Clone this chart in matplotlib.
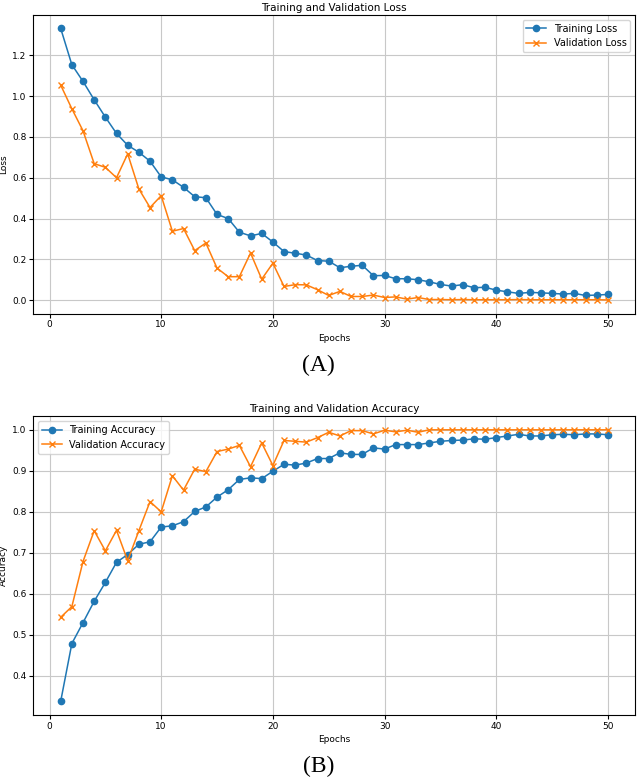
import numpy as np
import matplotlib.pyplot as plt

epochs = np.arange(1, 51)

train_loss = [1.332, 1.154, 1.072, 0.982, 0.897, 0.817, 0.759, 0.725, 0.681, 0.604,
              0.590, 0.553, 0.507, 0.502, 0.420, 0.400, 0.333, 0.315, 0.327, 0.285,
              0.238, 0.230, 0.221, 0.194, 0.191, 0.159, 0.166, 0.171, 0.120, 0.121,
              0.105, 0.105, 0.100, 0.090, 0.077, 0.069, 0.076, 0.061, 0.063, 0.049,
              0.041, 0.033, 0.038, 0.036, 0.033, 0.030, 0.033, 0.023, 0.025, 0.028]
val_loss = [1.054, 0.938, 0.830, 0.669, 0.651, 0.600, 0.717, 0.545, 0.454, 0.512,
            0.338, 0.351, 0.243, 0.280, 0.157, 0.115, 0.115, 0.231, 0.103, 0.181,
            0.067, 0.076, 0.075, 0.051, 0.023, 0.043, 0.018, 0.018, 0.025, 0.013,
            0.016, 0.005, 0.013, 0.003, 0.003, 0.002, 0.003, 0.002, 0.002, 0.002,
            0.002, 0.003, 0.002, 0.002, 0.002, 0.002, 0.002, 0.002, 0.002, 0.001]

train_acc = [0.338, 0.479, 0.530, 0.582, 0.628, 0.677, 0.696, 0.721, 0.727, 0.763,
             0.766, 0.776, 0.801, 0.812, 0.836, 0.854, 0.879, 0.883, 0.881, 0.899,
             0.916, 0.914, 0.919, 0.930, 0.930, 0.944, 0.940, 0.940, 0.956, 0.953,
             0.964, 0.964, 0.964, 0.968, 0.972, 0.974, 0.975, 0.978, 0.977, 0.981,
             0.985, 0.989, 0.985, 0.985, 0.988, 0.989, 0.988, 0.990, 0.990, 0.988]
val_acc = [0.543, 0.569, 0.679, 0.754, 0.705, 0.755, 0.681, 0.754, 0.825, 0.800,
           0.888, 0.853, 0.904, 0.898, 0.947, 0.953, 0.962, 0.910, 0.968, 0.913,
           0.974, 0.972, 0.970, 0.981, 0.994, 0.985, 0.998, 0.998, 0.990, 0.999,
           0.995, 0.999, 0.994, 1.000, 1.000, 1.000, 1.000, 1.000, 1.000, 1.000,
           1.000, 1.000, 1.000, 1.000, 1.000, 1.000, 1.000, 1.000, 1.000, 1.000]

plt.rcParams['font.size'] = 6.5

fig = plt.figure(figsize=(6.37, 7.78), dpi=100)
ax1 = fig.add_axes([0.0523, 0.597, 0.945, 0.384])
ax2 = fig.add_axes([0.0523, 0.081, 0.945, 0.384])


def panel(ax, tr, va, what, loc, cap, cap_y):
    ax.plot(epochs, tr, marker='o', markersize=4.5, lw=1.1, label=f'Training {what}')
    ax.plot(epochs, va, marker='x', markersize=4, lw=1.1, label=f'Validation {what}')
    ax.set_title(f'Training and Validation {what}', fontsize=7.5, pad=3)
    ax.set_xlabel('Epochs', labelpad=3)
    ax.set_ylabel(what, labelpad=3)
    ax.tick_params(length=3, pad=2)
    ax.grid(True, color='#c8c8c8', lw=0.8)
    ax.legend(loc=loc, fontsize=7, borderpad=0.4, handlelength=2)
    fig.text(0.5, cap_y, cap, ha='center', va='center',
             family='Liberation Serif', fontsize=17)


panel(ax1, train_loss, val_loss, 'Loss', 'upper right', '(A)', 1 - 365.5 / 778)
panel(ax2, train_acc, val_acc, 'Accuracy', 'upper left', '(B)', 1 - 766.5 / 778)

fig.savefig('out.png', dpi=100)
